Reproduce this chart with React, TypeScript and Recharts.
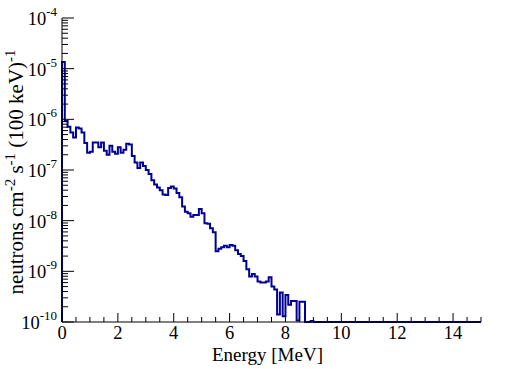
import { Label, Line, LineChart, XAxis, YAxis } from "recharts";

// neutron flux per 100 keV bin, bin low edges 0.0, 0.1, ... 9.0 MeV
const binWidth = 0.1;
const flux = [
  1.35e-5, 9.3e-7, 7.1e-7, 5.5e-7, 4.4e-7, 6.9e-7, 6.6e-7, 5.5e-7, 3.4e-7, 2.2e-7,
  2.3e-7, 3.5e-7, 3.5e-7, 2.8e-7, 3.5e-7, 2.4e-7, 2.0e-7, 3.0e-7, 2.3e-7, 2.1e-7,
  2.8e-7, 2.2e-7, 2.5e-7, 3.3e-7, 3.2e-7, 1.9e-7, 1.4e-7, 1.1e-7, 1.4e-7, 1.2e-7,
  1.0e-7, 8.3e-8, 6.3e-8, 5.2e-8, 4.5e-8, 4.0e-8, 3.3e-8, 3.2e-8, 4.4e-8, 4.7e-8,
  4.3e-8, 3.5e-8, 2.9e-8, 1.9e-8, 1.5e-8, 1.4e-8, 1.2e-8, 1.3e-8, 1.3e-8, 1.7e-8,
  1.4e-8, 8.9e-9, 8.7e-9, 7.1e-9, 5.9e-9, 2.5e-9, 2.8e-9, 3.0e-9, 3.2e-9, 3.0e-9,
  3.3e-9, 3.2e-9, 2.6e-9, 2.2e-9, 2.0e-9, 1.6e-9, 1.1e-9, 7.9e-10, 8.9e-10, 7.9e-10,
  6.3e-10, 6.0e-10, 6.0e-10, 6.3e-10, 7.6e-10, 5.0e-10, 4.4e-10, 1.4e-10, 3.8e-10, 1.3e-10,
  3.4e-10, 2.2e-10, 2.6e-10, 2.6e-10, 1.07e-10, 2.5e-10, 2.5e-10, 0, 0, 1.05e-10,
  0
];

const xMax = 15;
const yMin = 1e-10;
const yMax = 1e-4;
const xMajorTicks = [0, 2, 4, 6, 8, 10, 12, 14];
const yDecades = [-10, -9, -8, -7, -6, -5, -4];

const FONT = "Liberation Serif";
const BLUE = "#000099";

// histogram drawn as a step line; empty bins sit on the axis floor
const table = [
  { e: 0, v: yMin },
  ...flux.map((v, i) => ({ e: i * binWidth, v: Math.max(v, yMin) })),
  { e: xMax, v: yMin }
];

const xTicks = Array.from({ length: xMax * 2 + 1 }, (_, i) => i * 0.5);
const yTicks: number[] = [];
yDecades.forEach((d) => {
  if (d === -4) {
    yTicks.push(yMax);
    return;
  }
  for (let m = 1; m <= 9; m++) yTicks.push(m * Math.pow(10, d));
});

const isDecade = (v: number) => {
  const l = Math.log10(v);
  return Math.abs(l - Math.round(l)) < 1e-6;
};

function BottomTick({ x, y, payload }: any) {
  const major = xMajorTicks.includes(payload.value);
  return (
    <g>
      <line x1={x} x2={x} y1={y} y2={y - (major ? 9 : 5)} stroke="#000" />
      {major && (
        <text x={x} y={y + 17} textAnchor="middle" fontSize={18.5} fontFamily={FONT} fill="#000">
          {payload.value}
        </text>
      )}
    </g>
  );
}

function TopTick({ x, y, payload }: any) {
  const major = xMajorTicks.includes(payload.value);
  return <line x1={x} x2={x} y1={y} y2={y + (major ? 9 : 5)} stroke="#000" />;
}

function LeftTick({ x, y, payload }: any) {
  const major = isDecade(payload.value);
  return (
    <g>
      <line x1={x} x2={x + (major ? 12 : 6)} y1={y} y2={y} stroke="#000" />
      {major && (
        <text x={x - 5} y={y + 7} textAnchor="end" fontSize={18.5} fontFamily={FONT} fill="#000">
          10
          <tspan dy={-9} fontSize={13}>
            {Math.round(Math.log10(payload.value))}
          </tspan>
        </text>
      )}
    </g>
  );
}

function RightTick({ x, y, payload }: any) {
  const major = isDecade(payload.value);
  return <line x1={x} x2={x - (major ? 12 : 6)} y1={y} y2={y} stroke="#000" />;
}

function XTitle({ viewBox }: any) {
  return (
    <text x={viewBox.x + viewBox.width / 2 - 4} y={viewBox.y + 39} textAnchor="middle" fontSize={19} fontFamily={FONT} fill="#000">
      Energy [MeV]
    </text>
  );
}

function YTitle({ viewBox }: any) {
  const cx = 23;
  const cy = viewBox.y + viewBox.height / 2 + 2;
  return (
    <text x={cx} y={cy} transform={`rotate(-90, ${cx}, ${cy})`} textAnchor="middle" fontSize={21} fontFamily={FONT} fill="#000">
      neutrons cm
      <tspan dy={-8} fontSize={15}>-2</tspan>
      <tspan dy={8}> s</tspan>
      <tspan dy={-8} fontSize={15}>-1</tspan>
      <tspan dy={8}> (100 keV)</tspan>
      <tspan dy={-8} fontSize={15}>-1</tspan>
    </text>
  );
}

export default function App() {
  return (
    <div style={{ position: "absolute", left: 0, top: 0, background: "#fff" }}>
      <LineChart width={508} height={369} data={table} margin={{ top: 18, right: 27, left: 0, bottom: 0 }}>
        <XAxis
          xAxisId="bottom"
          dataKey="e"
          type="number"
          domain={[0, xMax]}
          ticks={xTicks}
          interval={0}
          height={47}
          tickLine={false}
          tickSize={0}
          tickMargin={0}
          tick={<BottomTick />}
          axisLine={{ stroke: "#000" }}
        >
          <Label content={<XTitle />} />
        </XAxis>
        <XAxis
          xAxisId="top"
          orientation="top"
          dataKey="e"
          type="number"
          domain={[0, xMax]}
          ticks={xTicks}
          interval={0}
          height={0}
          tickLine={false}
          tickSize={0}
          tickMargin={0}
          tick={<TopTick />}
          axisLine={{ stroke: "#000" }}
        />
        <YAxis
          yAxisId="left"
          type="number"
          scale="log"
          domain={[yMin, yMax]}
          ticks={yTicks}
          interval={0}
          width={62}
          tickLine={false}
          tickSize={0}
          tickMargin={0}
          tick={<LeftTick />}
          axisLine={{ stroke: "#000" }}
        >
          <Label content={<YTitle />} />
        </YAxis>
        <YAxis
          yAxisId="right"
          orientation="right"
          type="number"
          scale="log"
          domain={[yMin, yMax]}
          ticks={yTicks}
          interval={0}
          width={0}
          tickLine={false}
          tickSize={0}
          tickMargin={0}
          tick={<RightTick />}
          axisLine={{ stroke: "#000" }}
        />
        <Line
          xAxisId="bottom"
          yAxisId="left"
          dataKey="v"
          type="stepAfter"
          stroke={BLUE}
          strokeWidth={2}
          dot={false}
          activeDot={false}
          isAnimationActive={false}
        />
      </LineChart>
    </div>
  );
}
